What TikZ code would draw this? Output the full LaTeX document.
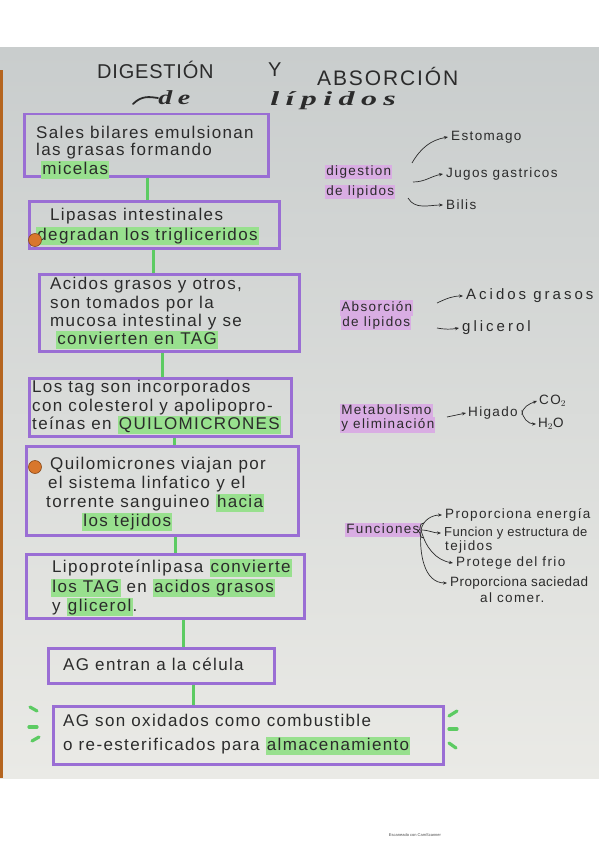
\documentclass[tikz,border=0pt]{standalone}
\usepackage{fontspec}
\setmainfont{Liberation Sans}
\newfontfamily\hand[LetterSpace=8]{Liberation Sans}
\newfontfamily\rhand[LetterSpace=10]{Liberation Sans}
\newfontfamily\rtight[LetterSpace=3]{Liberation Sans}
\newfontfamily\rwide[LetterSpace=20]{Liberation Sans}
\newfontfamily\titlefont[LetterSpace=4]{Liberation Sans}
\newfontfamily\titlewide[LetterSpace=9]{Liberation Sans}
\newfontfamily\cursive[LetterSpace=20]{Liberation Serif}
\usetikzlibrary{arrows.meta,calc}
\definecolor{paperTop}{HTML}{C9CDCD}
\definecolor{paperBot}{HTML}{EAEAE6}
\definecolor{boxpurple}{HTML}{9A6ED4}
\definecolor{conngreen}{HTML}{5CCB62}
\definecolor{hlgreen}{HTML}{98E08E}
\definecolor{hlpurple}{HTML}{D9ADE3}
\definecolor{ink}{HTML}{2B2B2B}
\definecolor{dotorange}{HTML}{D8772C}
\definecolor{dotdark}{HTML}{8A4A1A}
\definecolor{edgebrown}{HTML}{B5651F}
\newcommand\hg[1]{\begingroup\setlength{\fboxsep}{1.2pt}\colorbox{hlgreen}{\vphantom{Ag}#1}\endgroup}
\newcommand\hp[1]{\begingroup\setlength{\fboxsep}{1.2pt}\colorbox{hlpurple}{\vphantom{Ag}#1}\endgroup}
\begin{document}
\begin{tikzpicture}[x=1pt,y=-1pt,
  box/.style={draw=boxpurple, line width=2.5pt, inner sep=0pt, anchor=north west},
  conn/.style={draw=conngreen, line width=3pt},
  dash mark/.style={draw=conngreen, line width=3.2pt, line cap=round},
  txt/.style={anchor=west, inner sep=0pt, text=ink, font=\hand\fontsize{17}{19}\selectfont},
  rtxt/.style={anchor=west, inner sep=0pt, text=ink, font=\rhand\fontsize{13.5}{15}\selectfont},
  arr/.style={-{Stealth[length=4pt,width=3.2pt]}, line width=0.7pt, draw=ink},
  dot/.style={circle, fill=dotorange, draw=dotdark, line width=0.6pt, minimum size=13pt, inner sep=0pt},
  ttl/.style={anchor=west, inner sep=0pt, text=ink, font=\titlefont\fontsize{20}{22}\selectfont},
  curs/.style={anchor=west, inner sep=0pt, text=ink, font=\cursive\bfseries\itshape\fontsize{20}{22}\selectfont}]
\useasboundingbox (0,0) rectangle (599,848);
\fill[white] (0,0) rectangle (599,848);
\shade[top color=paperTop, bottom color=paperBot] (0,48) rectangle (599,778);
\fill[edgebrown] (0,70) rectangle (2.5,778);

% title
\node[ttl] (tdig) at (97,70) {DIGESTIÓN};
\node[ttl] (ty) at (268,70) {Y};
\node[ttl, font=\titlewide\fontsize{21}{23}\selectfont] (tabs) at (317,76) {ABSORCIÓN};
\node[curs, xscale=1.4, transform shape] (tde) at (158,98) {de};
\node[curs, xscale=1.6, transform shape] (tlip) at (270,101) {lípidos};
\coordinate (tail) at (133,104);
\draw[ink, line width=1.8pt, line cap=round] (tail) .. controls (142,95) and (150,97) .. (tde.west);

% boxes
\node[box, minimum width=244pt, minimum height=62pt] (b1) at (23,113) {};
\node[box, minimum width=250pt, minimum height=47pt] (b2) at (28,200) {};
\node[box, minimum width=260pt, minimum height=77pt] (b3) at (38,273) {};
\node[box, minimum width=262pt, minimum height=58pt] (b4) at (28,377) {};
\node[box, minimum width=272pt, minimum height=89pt] (b5) at (25,445) {};
\node[box, minimum width=278pt, minimum height=64pt] (b6) at (25,553) {};
\node[box, minimum width=226pt, minimum height=35pt] (b7) at (47,647) {};
\node[box, minimum width=390pt, minimum height=58pt] (b8) at (52,705) {};

% connectors
\coordinate (c12) at (147,0);
\coordinate (c23) at (153,0);
\coordinate (c34) at (162,0);
\coordinate (c45) at (174,0);
\coordinate (c56) at (175,0);
\coordinate (c67) at (183,0);
\coordinate (c78) at (193,0);
\draw[conn] (b1.south -| c12) -- (b2.north -| c12);
\draw[conn] (b2.south -| c23) -- (b3.north -| c23);
\draw[conn] (b3.south -| c34) -- (b4.north -| c34);
\draw[conn] (b4.south -| c45) -- (b5.north -| c45);
\draw[conn] (b5.south -| c56) -- (b6.north -| c56);
\draw[conn] (b6.south -| c67) -- (b7.north -| c67);
\draw[conn] (b7.south -| c78) -- (b8.north -| c78);

% box texts
\node[txt] (l1a) at (36,132) {Sales bilares emulsionan};
\node[txt] (l1b) at (36,151) {las grasas formando};
\node[txt] (l1c) at (41,170) {\hg{micelas}};

\node[txt] (l2a) at (50,216) {Lipasas intestinales};
\node[txt] (l2b) at (36,236) {\hg{degradan los trigliceridos}};
\node[dot] (o1) at (35,240) {};

\node[txt] (l3a) at (50,285) {Acidos grasos y otros,};
\node[txt] (l3b) at (50,304) {son tomados por la};
\node[txt] (l3c) at (50,322) {mucosa intestinal y se};
\node[txt] (l3d) at (56,340) {\hg{convierten en TAG}};

\node[txt] (l4a) at (32,388) {Los tag son incorporados};
\node[txt] (l4b) at (32,407) {con colesterol y apolipopro-};
\node[txt] (l4c) at (32,425) {teínas en \hg{QUILOMICRONES}};

\node[dot] (o2) at (35,467) {};
\node[txt] (l5a) at (50,465) {Quilomicrones viajan por};
\node[txt] (l5b) at (48,484) {el sistema linfatico y el};
\node[txt] (l5c) at (46,503) {torrente sanguineo \hg{hacia}};
\node[txt] (l5d) at (82,522) {\hg{los tejidos}};

\node[txt] (l6a) at (52,568) {Lipoproteínlipasa \hg{convierte}};
\node[txt] (l6b) at (51,588) {\hg{los TAG} en \hg{acidos grasos}};
\node[txt] (l6c) at (52,607) {y \hg{glicerol}.};

\node[txt] (l7a) at (63,664) {AG entran a la célula};

\node[txt] (l8a) at (63,720) {AG son oxidados como combustible};
\node[txt] (l8b) at (63,746) {o re-esterificados para \hg{almacenamiento}};

% green marks beside last box
\coordinate (g1a) at (30,707); \coordinate (g1b) at (37,711);
\coordinate (g2a) at (29,727); \coordinate (g2b) at (37,727);
\coordinate (g3a) at (32,741); \coordinate (g3b) at (39,737);
\coordinate (g4a) at (449,716); \coordinate (g4b) at (457,711);
\coordinate (g5a) at (449,729); \coordinate (g5b) at (457,729);
\coordinate (g6a) at (449,743); \coordinate (g6b) at (456,748);
\draw[dash mark] (g1a) -- (g1b);
\draw[dash mark] (g2a) -- (g2b);
\draw[dash mark] (g3a) -- (g3b);
\draw[dash mark] (g4a) -- (g4b);
\draw[dash mark] (g5a) -- (g5b);
\draw[dash mark] (g6a) -- (g6b);

% right: digestion
\node[rtxt] (dg1) at (325,172) {\hp{digestion}};
\node[rtxt] (dg2) at (325,192) {\hp{de lipidos}};
\node[rtxt] (est) at (451,137) {Estomago};
\node[rtxt] (jug) at (446,174) {Jugos gastricos};
\node[rtxt] (bil) at (446,205) {Bilis};
\coordinate (dgs1) at (412,163);
\coordinate (dgs2) at (413,182);
\coordinate (dgs3) at (408,198);
\draw[arr] (dgs1) to[out=60,in=190] ([xshift=-3pt]est.west);
\draw[arr] (dgs2) to[out=0,in=190] ([xshift=-3pt]jug.west);
\draw[arr] (dgs3) to[out=-60,in=180] ([xshift=-3pt]bil.west);

% right: absorcion
\node[rtxt] (ab1) at (340,308) {\hp{Absorción}};
\node[rtxt] (ab2) at (341,323) {\hp{de lipidos}};
\node[rtxt, font=\rwide\fontsize{15}{17}\selectfont] (acg) at (466,296) {Acidos grasos};
\node[rtxt, font=\rwide\fontsize{15}{17}\selectfont] (gli) at (462,328) {glicerol};
\coordinate (abs1) at (437,303);
\coordinate (abs2) at (437,328);
\draw[arr] (abs1) to[out=25,in=180] ([xshift=-3pt]acg.west);
\draw[arr] (abs2) to[out=-10,in=190] ([xshift=-3pt]gli.west);

% right: metabolismo
\node[rtxt] (me1) at (340,411) {\hp{Metabolismo}};
\node[rtxt] (me2) at (340,425) {\hp{y eliminación}};
\node[rtxt] (hig) at (468,413) {Higado};
\node[rtxt] (co2) at (539,401) {CO$_2$};
\node[rtxt] (h2o) at (538,424) {H$_2$O};
\coordinate (mes) at (447,417);
\draw[arr] (mes) -- ([xshift=-2pt]hig.west);
\draw[arr] ([xshift=4pt,yshift=-2pt]hig.east) to[out=90,in=200] ([xshift=-2pt]co2.west);
\draw[arr] ([xshift=4pt,yshift=3pt]hig.east) to[out=-90,in=180] ([xshift=-2pt]h2o.west);

% right: funciones
\node[rtxt] (fun) at (345,530) {\hp{Funciones}};
\coordinate (br) at (421,530);
\draw[ink, line width=0.8pt] (424,523) .. controls (418,523) and (422,530) .. (418,531) .. controls (422,532) and (418,538) .. (424,538);
\node[rtxt] (f1) at (445,515) {Proporciona energía};
\node[rtxt, font=\rtight\fontsize{13}{15}\selectfont] (f2) at (444,533) {Funcion y estructura de};
\node[rtxt] (f2b) at (445,547) {tejidos};
\node[rtxt] (f3) at (456,563) {Protege del frio};
\node[rtxt, font=\rtight\fontsize{13.5}{15}\selectfont] (f4) at (450,583) {Proporciona saciedad};
\node[rtxt] (f4b) at (480,598) {al comer.};
\draw[arr] (br) to[out=80,in=180] ([xshift=-3pt]f1.west);
\draw[arr] (br) to[out=0,in=180] ([xshift=-3pt]f2.west);
\draw[arr] (br) to[out=-75,in=170] ([xshift=-3pt]f3.west);
\draw[arr] (br) to[out=-95,in=180] ([xshift=-3pt]f4.west);

% scanner footer
\node[anchor=center, inner sep=0pt, text=black!70, font=\fontsize{4}{5}\selectfont] (scan) at (415,835) {Escaneado con CamScanner};
\end{tikzpicture}
\end{document}
